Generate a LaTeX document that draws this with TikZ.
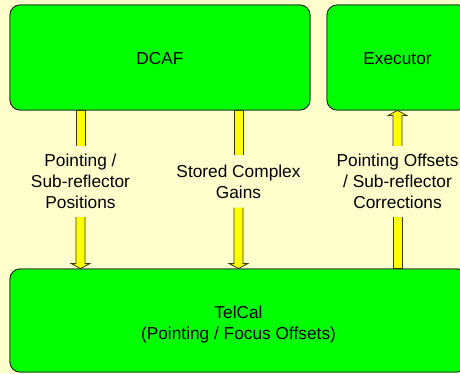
\documentclass[tikz,border=0pt]{standalone}
\usepackage{fontspec}
\setmainfont{Liberation Sans}
\usetikzlibrary{calc}

\definecolor{paper}{RGB}{255,255,204}
\definecolor{boxgreen}{RGB}{0,255,0}
\definecolor{flowyellow}{RGB}{255,255,0}
\definecolor{flowedge}{RGB}{60,55,20}

\tikzset{
  module/.style={draw=black!85, line width=0.8pt, fill=boxgreen, rounded corners=10pt,
    inner sep=0pt, align=center, font=\fontsize{17.3}{21}\selectfont},
  flowlabel/.style={inner sep=0pt, align=center, font=\fontsize{17.3}{21}\selectfont},
  flow/.style={draw=flowedge, line width=0.8pt, fill=flowyellow, line join=miter},
}

\begin{document}
\begin{tikzpicture}[x=1pt, y=1pt]
  \useasboundingbox (0,0) rectangle (460,373);
  \fill[paper] (0,0) rectangle (460,373);
  \clip (0,0) rectangle (460,373);

  % labels sitting in the gaps of the flow arrows
  \node[flowlabel, minimum height=71pt] (lblA) at (80.5,191.5) {Pointing /\\Sub-reflector\\Positions};
  \node[flowlabel, minimum height=52pt] (lblB) at (238.5,191.5) {Stored Complex\\Gains};
  \node[flowlabel, minimum height=71pt] (lblC) at (397.5,191.5) {Pointing Offsets\\/ Sub-reflector\\Corrections};

  % component boxes (their anchors are needed by the arrows)
  \path (160,315.5) node[module, minimum width=300pt, minimum height=105pt] (dcaf) {};
  \path (397.5,315.5) node[module, minimum width=141pt, minimum height=105pt] (exec) {};
  \path (238.5,52.5) node[module, minimum width=457pt, minimum height=103pt] (telcal) {};

  % DCAF -> TelCal (two flows)
  \foreach \l in {lblA,lblB} {
    \path (dcaf.south -| \l) coordinate (top) (telcal.north -| \l) coordinate (tip);
    \draw[flow] ($(\l.north)+(-4.5,0)$) -- ($(top)+(-4.5,0)$) -- ($(top)+(4.5,0)$) -- ($(\l.north)+(4.5,0)$);
    \draw[flow] ($(\l.south)+(-4.5,0)$) -- ($(tip)+(-4.5,5)$) -- ($(tip)+(-9.25,5)$) -- (tip)
      -- ($(tip)+(9.25,5)$) -- ($(tip)+(4.5,5)$) -- ($(\l.south)+(4.5,0)$);
  }

  % TelCal -> Executor
  \path (telcal.north -| lblC) coordinate (base) (exec.south -| lblC) coordinate (tip);
  \draw[flow] ($(lblC.south)+(-4.5,0)$) -- ($(base)+(-4.5,0)$) -- ($(base)+(4.5,0)$) -- ($(lblC.south)+(4.5,0)$);
  \draw[flow] ($(lblC.north)+(-4.5,0)$) -- ($(tip)+(-4.5,-5)$) -- ($(tip)+(-9.25,-5)$) -- (tip)
    -- ($(tip)+(9.25,-5)$) -- ($(tip)+(4.5,-5)$) -- ($(lblC.north)+(4.5,0)$);

  % boxes redrawn on top, then their titles
  \node[module, minimum width=300pt, minimum height=105pt] at (dcaf) {};
  \node[module, minimum width=141pt, minimum height=105pt] at (exec) {};
  \node[module, minimum width=457pt, minimum height=103pt] at (telcal) {};
  \node[flowlabel] (dcafT) at ([yshift=-1pt]dcaf.center) {DCAF};
  \node[flowlabel] (execT) at ([yshift=-1pt]exec.center) {Executor};
  \node[flowlabel] (telcalT) at ([yshift=-4pt]telcal.center) {TelCal\\(Pointing / Focus Offsets)};
\end{tikzpicture}
\end{document}
